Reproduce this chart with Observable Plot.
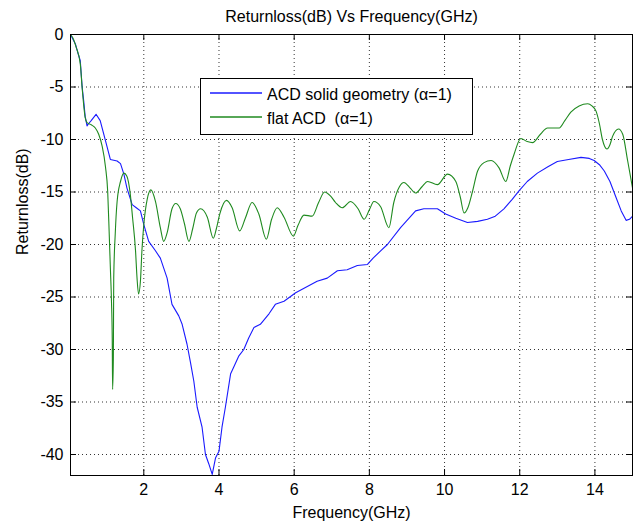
<!DOCTYPE html>
<html><head><meta charset="utf-8">
<script src="https://cdn.jsdelivr.net/npm/d3@7"></script>
<script src="https://cdn.jsdelivr.net/npm/@observablehq/plot@0.6"></script>
<style>
body{margin:0;background:#fff;font-family:"Liberation Sans",Arial,sans-serif;}
#wrap{position:relative;width:637px;height:530px;}
#legend{position:absolute;left:200px;top:78px;}
</style></head><body><div id="wrap"></div>
<script>
const title = "Returnloss(dB) Vs Frequency(GHz)";
const xLabel = "Frequency(GHz)";
const yLabel = "Returnloss(dB)";
const seriesNames = ["ACD solid geometry (α=1)", "flat ACD  (α=1)"];
const seriesColors = ["#1a1aff", "#1f8a1f"];
const xTicks = [2, 4, 6, 8, 10, 12, 14];
const yTicks = [0, -5, -10, -15, -20, -25, -30, -35, -40];

const solidFreq = [0.05,0.18,0.25,0.31,0.36,0.4,0.44,0.49,0.53,0.6,0.73,0.84,0.98,1.11,1.29,1.38,1.47,1.55,1.69,1.8,1.91,2.0,2.13,2.31,2.44,2.62,2.75,2.93,3.02,3.15,3.24,3.33,3.42,3.55,3.64,3.73,3.82,3.91,4.0,4.08,4.17,4.31,4.39,4.53,4.66,4.79,4.93,5.1,5.33,5.5,5.73,6.04,6.3,6.61,6.88,7.15,7.41,7.68,7.95,8.1,8.3,8.48,8.83,9.23,9.45,9.81,10.03,10.3,10.61,10.88,11.14,11.35,11.58,11.8,11.98,12.2,12.47,12.75,13.0,13.3,13.63,13.85,13.98,14.12,14.25,14.4,14.56,14.7,14.83,14.92,15.0];
const solidRL = [0,-0.9,-1.8,-2.5,-5.0,-6.3,-7.8,-8.7,-8.5,-8.2,-7.6,-8.2,-10.1,-11.9,-12.05,-12.3,-13.3,-14.6,-16.2,-16.5,-16.8,-18.1,-19.7,-20.6,-21.3,-23.2,-25.7,-26.8,-27.6,-29.5,-31.2,-33.0,-35.5,-37.4,-40.0,-40.9,-41.9,-40.3,-39.7,-37.4,-35.5,-32.3,-31.7,-30.6,-30.0,-28.9,-27.9,-27.6,-26.6,-25.7,-25.4,-24.6,-24.1,-23.5,-23.2,-22.5,-22.4,-22.0,-21.9,-21.3,-20.6,-20.0,-18.4,-16.8,-16.6,-16.6,-17.1,-17.5,-17.9,-17.8,-17.6,-17.3,-16.6,-15.7,-14.9,-14.0,-13.2,-12.6,-12.1,-11.9,-11.7,-11.8,-12.0,-12.4,-13.0,-14.0,-15.5,-16.8,-17.7,-17.6,-17.3];

const flatFreq = [0.05,0.11,0.2,0.31,0.36,0.44,0.49,0.6,0.71,0.8,0.89,0.98,1.04,1.08,1.11,1.14,1.16,1.17,1.19,1.2,1.24,1.29,1.38,1.47,1.55,1.64,1.7,1.78,1.82,1.86,1.91,1.95,2.0,2.09,2.19,2.31,2.44,2.53,2.62,2.75,2.85,2.97,3.08,3.2,3.3,3.4,3.51,3.69,3.85,3.93,4.02,4.2,4.35,4.55,4.7,4.88,5.06,5.26,5.4,5.55,5.73,5.98,6.1,6.26,6.48,6.65,6.81,6.97,7.1,7.28,7.5,7.7,7.86,8.0,8.12,8.3,8.52,8.65,8.8,8.92,9.08,9.23,9.4,9.55,9.81,10.08,10.3,10.42,10.52,10.62,10.74,10.88,11.05,11.24,11.45,11.63,11.75,11.85,12.03,12.2,12.34,12.55,12.74,13.05,13.2,13.36,13.58,13.81,13.92,14.03,14.12,14.2,14.32,14.4,14.47,14.63,14.74,14.87,15.0];
const flatRL = [0,-0.3,-1.2,-2.8,-5.1,-7.9,-8.4,-8.6,-8.9,-9.5,-10.6,-12.6,-15.0,-19.0,-22.2,-25.4,-28.9,-33.8,-30.8,-23.2,-19.0,-15.9,-14.0,-13.2,-13.5,-15.2,-17.4,-20.6,-23.2,-24.7,-23.5,-20.6,-18.1,-15.7,-14.8,-15.9,-18.4,-19.7,-18.9,-16.6,-16.1,-16.6,-18.0,-19.7,-18.5,-17.0,-16.6,-17.4,-19.4,-18.5,-17.1,-15.8,-16.5,-18.7,-17.5,-16.0,-17.1,-19.5,-17.6,-16.5,-17.4,-19.2,-18.2,-17.2,-17.3,-16.0,-15.0,-15.4,-16.0,-16.5,-15.9,-16.6,-17.6,-16.7,-15.9,-16.4,-18.4,-16.0,-14.5,-14.1,-14.6,-15.1,-14.5,-14.0,-14.3,-13.3,-14.0,-15.5,-17.0,-16.5,-15.0,-13.0,-12.2,-12.0,-12.7,-14.0,-12.5,-11.4,-9.9,-10.2,-10.3,-9.5,-8.9,-8.9,-8.2,-7.4,-6.8,-6.6,-6.8,-7.3,-8.5,-10.0,-10.9,-10.5,-9.7,-9.0,-9.5,-12.0,-14.6];

const solid = solidFreq.map((f, i) => ({f, rl: solidRL[i]}));
const flat = flatFreq.map((f, i) => ({f, rl: flatRL[i]}));

const W = 637, H = 530, mL = 70, mR = 5, mT = 34, mB = 55;
const fw = W - mL - mR, fh = H - mT - mB, tk = 6;
const gridStyle = {stroke: "#000", strokeOpacity: 0.8, strokeDasharray: "1,3"};

const chart = Plot.plot({
  width: W, height: H,
  marginLeft: mL, marginRight: mR, marginTop: mT, marginBottom: mB,
  style: {fontFamily: "'Liberation Sans', Arial, sans-serif", fontSize: "16px", background: "white", overflow: "visible", color: "#000"},
  x: {domain: [0.05, 15]},
  y: {domain: [-42, 0]},
  marks: [
    Plot.gridX(xTicks, gridStyle),
    Plot.gridY(yTicks, gridStyle),
    Plot.line(solid, {x: "f", y: "rl", stroke: seriesColors[0], strokeWidth: 1.1, clip: true}),
    Plot.line(flat, {x: "f", y: "rl", stroke: seriesColors[1], strokeWidth: 1.1, curve: "monotone-x", clip: true}),
    Plot.tickX(xTicks, {x: d => d, insetTop: fh - tk, stroke: "#000"}),
    Plot.tickX(xTicks, {x: d => d, insetBottom: fh - tk, stroke: "#000"}),
    Plot.tickY(yTicks, {y: d => d, insetRight: fw - tk, stroke: "#000"}),
    Plot.tickY(yTicks, {y: d => d, insetLeft: fw - tk, stroke: "#000"}),
    Plot.frame({stroke: "#000"}),
    Plot.axisX(xTicks, {tickSize: 0, tickPadding: 8, label: null, fontSize: 16}),
    Plot.axisY(yTicks, {tickSize: 0, tickPadding: 7, label: null, fontSize: 16, tickFormat: d => String(d)}),
    Plot.text([title], {frameAnchor: "top", dy: -24, fontSize: 16}),
    Plot.text([xLabel], {frameAnchor: "bottom", dy: 42, fontSize: 16}),
    Plot.text([yLabel], {frameAnchor: "left", rotate: -90, dx: -48, fontSize: 16})
  ]
});
const wrap = document.getElementById("wrap");
wrap.appendChild(chart);

// legend box
const lg = d3.select(wrap).append("svg").attr("id", "legend")
  .attr("width", 273).attr("height", 57)
  .style("font-family", "'Liberation Sans', Arial, sans-serif").style("font-size", "16px");
lg.append("rect").attr("x", 0.5).attr("y", 0.5).attr("width", 272).attr("height", 56)
  .attr("fill", "#fff").attr("stroke", "#000");
seriesNames.forEach((name, i) => {
  const y = 15 + i * 24;
  lg.append("line").attr("x1", 10).attr("x2", 62).attr("y1", y).attr("y2", y)
    .attr("stroke", seriesColors[i]).attr("stroke-width", 1.5);
  lg.append("text").attr("x", 67).attr("y", y + 7).style("white-space", "pre")
    .attr("fill", "#000").text(name);
});
</script></body></html>
